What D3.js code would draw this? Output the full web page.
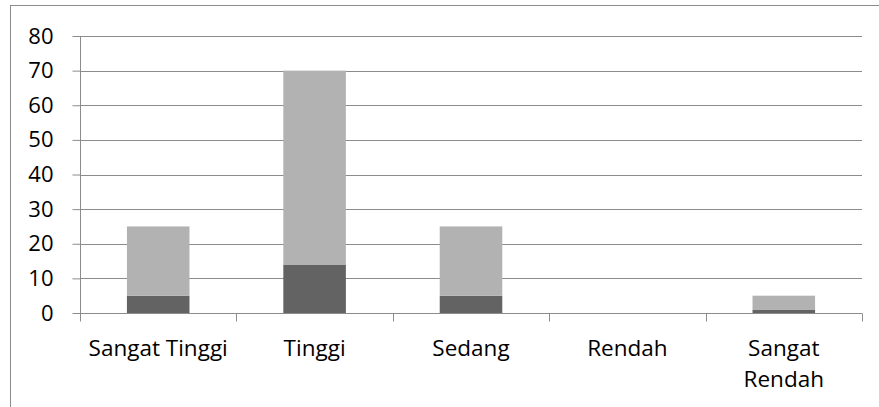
<!DOCTYPE html>
<html>
<head>
<meta charset="utf-8">
<script src="https://cdn.jsdelivr.net/npm/d3@7.9.0/dist/d3.min.js"></script>
<style>
  body { margin: 0; background: #fff; }
  svg text { font-family: "Open Sans", "Noto Sans", sans-serif; fill: #000; }
</style>
</head>
<body>
<svg id="chart" width="879" height="407"></svg>
<script>
// data
const categories = ['Sangat Tinggi', 'Tinggi', 'Sedang', 'Rendah', 'Sangat Rendah'];
const bottomValues = [5, 14, 5, 0, 1];
const topValues = [20, 56, 20, 0, 4];
const yTicks = [0, 10, 20, 30, 40, 50, 60, 70, 80];

const svg = d3.select('#chart');
const margin = { left: 80, right: 17, top: 36, bottom: 94 };
const width = 879, height = 407;

// outer border
svg.append('rect')
  .attr('x', 10.5).attr('y', 5.5)
  .attr('width', 880).attr('height', 420)
  .attr('fill', 'none').attr('stroke', '#8c8c8c');

let x = d3.scaleBand()
  .domain(categories)
  .range([margin.left, width - margin.right])
  .paddingInner(0.6).paddingOuter(0.3);

let y = d3.scaleLinear().domain([0, 80]).range([height - margin.bottom, margin.top]);

// gridlines
svg.append('g').selectAll('line')
  .data(yTicks.slice(1))
  .join('line')
  .attr('x1', margin.left).attr('x2', width - margin.right)
  .attr('y1', d => Math.round(y(d)) + 0.5).attr('y2', d => Math.round(y(d)) + 0.5)
  .attr('stroke', '#8c8c8c');

// stacked bars
let stacked = categories.map((c, i) => ({ cat: c, a: bottomValues[i], b: topValues[i] }));
let series = d3.stack().keys(['a', 'b'])(stacked);
let colors = ['#636363', '#b2b2b2'];

series.forEach((s, idx) => {
  svg.append('g').selectAll('rect')
    .data(s)
    .join('rect')
    .attr('x', d => x(d.data.cat))
    .attr('width', x.bandwidth())
    .attr('y', d => y(d[1]))
    .attr('height', d => y(d[0]) - y(d[1]))
    .attr('fill', colors[idx]);
});

// y axis
let yAxis = svg.append('g')
  .attr('transform', `translate(${margin.left + 0.5},0)`)
  .attr('font-size', 22)
  .attr('font-family', null)
  .call(d3.axisLeft(y).tickValues(yTicks).tickSize(8).tickPadding(19));
yAxis.attr('font-size', 22).attr('font-family', null);
yAxis.select('.domain').attr('stroke', '#8c8c8c').attr('d', `M0,${y(80)}V${y(0) + 8}`);
yAxis.selectAll('.tick line').attr('stroke', '#8c8c8c');
yAxis.selectAll('.tick text').attr('fill', '#000');

// x axis
let y0 = Math.round(y(0)) + 0.5;
svg.append('line')
  .attr('x1', margin.left).attr('x2', width - margin.right)
  .attr('y1', y0).attr('y2', y0).attr('stroke', '#8c8c8c');

let step = (width - margin.right - margin.left) / categories.length;
svg.append('g').selectAll('line')
  .data(d3.range(categories.length + 1))
  .join('line')
  .attr('x1', d => Math.round(margin.left + d * step) + 0.5)
  .attr('x2', d => Math.round(margin.left + d * step) + 0.5)
  .attr('y1', y0).attr('y2', y0 + 8)
  .attr('stroke', '#8c8c8c');

// category labels, long one wraps like in the original
let labelLines = { 'Sangat Rendah': ['Sangat', 'Rendah'] };
categories.forEach((c, i) => {
  let lines = labelLines[c] || [c];
  let t = svg.append('text')
    .attr('x', margin.left + (i + 0.5) * step)
    .attr('y', 356)
    .attr('text-anchor', 'middle')
    .style('font-size', '22.5px');
  lines.forEach((ln, k) => {
    t.append('tspan').attr('x', margin.left + (i + 0.5) * step).attr('dy', k === 0 ? 0 : 31).text(ln);
  });
});
</script>
</body>
</html>
